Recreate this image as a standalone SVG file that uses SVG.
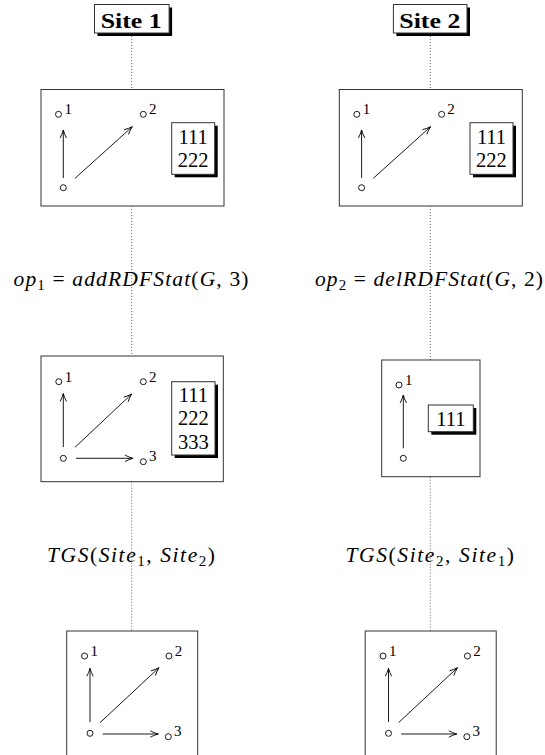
<svg xmlns="http://www.w3.org/2000/svg" width="545" height="755" viewBox="0 0 545 755">
<style>
.frame{fill:none;stroke:#333;stroke-width:1}
.pt{fill:none;stroke:#000;stroke-width:0.9}
.ar{stroke:#000;stroke-width:0.9;fill:none;marker-end:url(#ah)}
.dot{stroke:#666;stroke-width:1;stroke-dasharray:1 2;fill:none}
.sup{font-family:"Liberation Serif",serif;font-size:15px;fill:#000}
.num{font-family:"Liberation Serif",serif;font-size:20.5px;fill:#000;text-anchor:middle}
.shadow{fill:#000}
.box{fill:#fff;stroke:#333;stroke-width:1}
.site{font-family:"Liberation Serif",serif;font-weight:bold;font-size:21px;fill:#000}
.math{font-family:"Liberation Serif","DejaVu Serif",serif;font-style:italic;font-size:21.5px;fill:#000}
.rm{font-style:normal}
.sub{font-size:15px;font-style:normal}
</style>
<defs>
<marker id="ah" markerWidth="10" markerHeight="8" refX="9" refY="4" orient="auto" markerUnits="userSpaceOnUse">
<path d="M1,0.8 Q5,3 9,4 Q5,5 1,7.2" fill="none" stroke="#000" stroke-width="0.9"/>
</marker>
</defs>

<g id="connectors">
<path class="dot" d="M131.7,33 V89.5 M131.7,206 V356 M131.7,481.7 V631"/>
<path class="dot" d="M430.3,33 V89.5 M430.3,206 V360 M430.3,476.7 V631"/>
</g>

<g id="site1">
<rect class="shadow" x="97.5" y="7.5" width="74.6" height="28.5"/>
<rect class="box" x="94.5" y="4.5" width="74.6" height="28.5"/>
<text class="site" x="100.7" y="27.5" textLength="61" lengthAdjust="spacingAndGlyphs">Site 1</text>
</g>
<g id="site2">
<rect class="shadow" x="396.4" y="7.5" width="73.6" height="28.5"/>
<rect class="box" x="393.4" y="4.5" width="73.6" height="28.5"/>
<text class="site" x="399.3" y="27.5" textLength="61" lengthAdjust="spacingAndGlyphs">Site 2</text>
</g>

<g id="site1-state0">
<rect class="frame" x="41" y="89.5" width="183" height="116.5"/>
<circle class="pt" cx="58.5" cy="114.3" r="3"/><text class="sup" x="64.5" y="114">1</text>
<circle class="pt" cx="143.3" cy="114.3" r="3"/><text class="sup" x="149" y="114">2</text>
<circle class="pt" cx="63.3" cy="187.7" r="3"/>
<line class="ar" x1="63.3" y1="178" x2="63.3" y2="130"/>
<line class="ar" x1="75" y1="178.3" x2="132.3" y2="126.7"/>
<rect class="shadow" x="174.7" y="125.7" width="43" height="51.6"/>
<rect class="box" x="171.7" y="122.7" width="43" height="51.6"/>
<text class="num" x="193.2" y="144">111</text>
<text class="num" x="193.2" y="167.3">222</text>
</g>

<g id="site2-state0" transform="translate(298.3,0)">
<rect class="frame" x="41" y="89.5" width="183" height="116.5"/>
<circle class="pt" cx="58.5" cy="114.3" r="3"/><text class="sup" x="64.5" y="114">1</text>
<circle class="pt" cx="143.3" cy="114.3" r="3"/><text class="sup" x="149" y="114">2</text>
<circle class="pt" cx="63.3" cy="187.7" r="3"/>
<line class="ar" x1="63.3" y1="178" x2="63.3" y2="130"/>
<line class="ar" x1="75" y1="178.3" x2="132.3" y2="126.7"/>
<rect class="shadow" x="174.7" y="125.7" width="43" height="51.6"/>
<rect class="box" x="171.7" y="122.7" width="43" height="51.6"/>
<text class="num" x="193.2" y="144">111</text>
<text class="num" x="193.2" y="167.3">222</text>
</g>

<g id="op1">
<text class="math" x="13.5" y="286" textLength="235" lengthAdjust="spacing">op<tspan class="sub" dy="4">1</tspan><tspan class="rm" dy="-4"> = </tspan>addRDFStat<tspan class="rm">(</tspan>G<tspan class="rm">, 3)</tspan></text>
</g>
<g id="op2">
<text class="math" x="315" y="286" textLength="228" lengthAdjust="spacing">op<tspan class="sub" dy="4">2</tspan><tspan class="rm" dy="-4"> = </tspan>delRDFStat<tspan class="rm">(</tspan>G<tspan class="rm">, 2)</tspan></text>
</g>

<g id="site1-state1">
<rect class="frame" x="41" y="356" width="182.3" height="125.7"/>
<circle class="pt" cx="58.8" cy="381.7" r="3"/><text class="sup" x="64.8" y="381.5">1</text>
<circle class="pt" cx="143.3" cy="381.7" r="3"/><text class="sup" x="149" y="381.5">2</text>
<circle class="pt" cx="63.3" cy="458.3" r="3"/>
<circle class="pt" cx="143.3" cy="461.7" r="3"/><text class="sup" x="149" y="460.5">3</text>
<line class="ar" x1="63.3" y1="447" x2="63.3" y2="393.5"/>
<line class="ar" x1="75" y1="447.3" x2="131.7" y2="394"/>
<line class="ar" x1="76" y1="458.3" x2="133" y2="458.3"/>
<rect class="shadow" x="174.7" y="384.7" width="43.3" height="73.3"/>
<rect class="box" x="171.7" y="381.7" width="43.3" height="73.3"/>
<text class="num" x="193.3" y="401.5">111</text>
<text class="num" x="193.3" y="425">222</text>
<text class="num" x="193.3" y="448.5">333</text>
</g>

<g id="site2-state1">
<rect class="frame" x="381.7" y="360" width="98.3" height="116.7"/>
<circle class="pt" cx="399" cy="385" r="3"/><text class="sup" x="405" y="385">1</text>
<circle class="pt" cx="403.3" cy="458.3" r="3"/>
<line class="ar" x1="403.3" y1="448.3" x2="403.3" y2="395"/>
<rect class="shadow" x="431.3" y="408" width="45" height="26.7"/>
<rect class="box" x="428.3" y="405" width="45" height="26.7"/>
<text class="num" x="450.8" y="426">111</text>
</g>

<g id="tgs1">
<text class="math" x="47" y="562" textLength="168" lengthAdjust="spacing">TGS<tspan class="rm">(</tspan>Site<tspan class="sub" dy="4">1</tspan><tspan class="rm" dy="-4">, </tspan>Site<tspan class="sub" dy="4">2</tspan><tspan class="rm" dy="-4">)</tspan></text>
</g>
<g id="tgs2">
<text class="math" x="345.5" y="562" textLength="168.5" lengthAdjust="spacing">TGS<tspan class="rm">(</tspan>Site<tspan class="sub" dy="4">2</tspan><tspan class="rm" dy="-4">, </tspan>Site<tspan class="sub" dy="4">1</tspan><tspan class="rm" dy="-4">)</tspan></text>
</g>

<g id="site1-state2">
<rect class="frame" x="66.7" y="631" width="131" height="140"/>
<circle class="pt" cx="84.5" cy="656" r="3"/><text class="sup" x="90.5" y="656">1</text>
<circle class="pt" cx="169" cy="656" r="3"/><text class="sup" x="174.8" y="656">2</text>
<circle class="pt" cx="90" cy="733.3" r="3"/>
<circle class="pt" cx="168.3" cy="736.7" r="3"/><text class="sup" x="174" y="735.5">3</text>
<line class="ar" x1="90" y1="722" x2="90" y2="668.3"/>
<line class="ar" x1="100" y1="722.7" x2="159" y2="667.7"/>
<line class="ar" x1="102.7" y1="734" x2="158.3" y2="734"/>
</g>

<g id="site2-state2" transform="translate(298.5,0)">
<rect class="frame" x="66.7" y="631" width="131" height="140"/>
<circle class="pt" cx="84.5" cy="656" r="3"/><text class="sup" x="90.5" y="656">1</text>
<circle class="pt" cx="169" cy="656" r="3"/><text class="sup" x="174.8" y="656">2</text>
<circle class="pt" cx="90" cy="733.3" r="3"/>
<circle class="pt" cx="168.3" cy="736.7" r="3"/><text class="sup" x="174" y="735.5">3</text>
<line class="ar" x1="90" y1="722" x2="90" y2="668.3"/>
<line class="ar" x1="100" y1="722.7" x2="159" y2="667.7"/>
<line class="ar" x1="102.7" y1="734" x2="158.3" y2="734"/>
</g>
</svg>
